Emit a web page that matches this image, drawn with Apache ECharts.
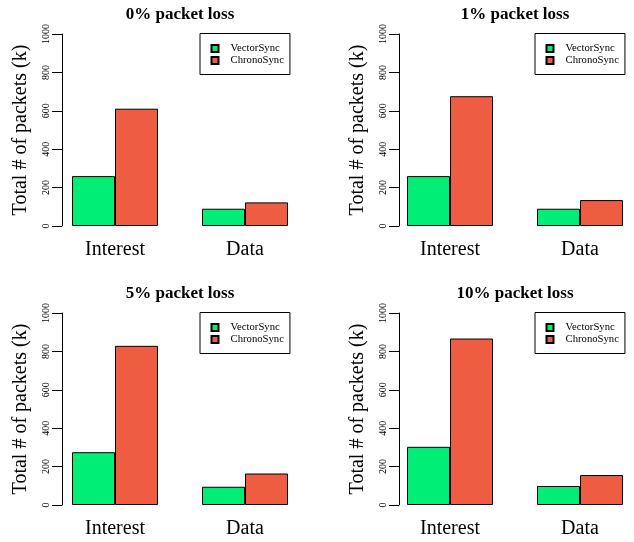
<!DOCTYPE html>
<html>
<head>
<meta charset="utf-8">
<script src="https://cdn.jsdelivr.net/npm/echarts@6/dist/echarts.min.js"></script>
<style>html,body{margin:0;padding:0;background:#fff}#c{width:634px;height:542px}</style>
</head>
<body>
<div id="c"></div>
<script>
// ---- data ----
const categories = ['Interest', 'Data'];
const seriesNames = ['VectorSync', 'ChronoSync'];
const panelTitles = ['0% packet loss', '1% packet loss', '5% packet loss', '10% packet loss'];
const yAxisTitle = 'Total # of packets (k)';
const vectorSync0 = [260, 90];
const chronoSync0 = [611, 123];
const vectorSync1 = [260, 90];
const chronoSync1 = [676, 135];
const vectorSync5 = [275, 95];
const chronoSync5 = [829, 164];
const vectorSync10 = [303, 99];
const chronoSync10 = [867, 156];
const yMin = 0, yMax = 1000, yStep = 200;

const panelData = [
  [vectorSync0, chronoSync0],
  [vectorSync1, chronoSync1],
  [vectorSync5, chronoSync5],
  [vectorSync10, chronoSync10]
];

// ---- layout / style ----
const F = 'Liberation Serif, Times New Roman, serif';
const colors = ['#00EE76', '#EE5C42'];
const layout = [
  {gl: 50,  gt: 34,  off: -12, cx: 180,   ty: 5,   lx: 200,   ly: 33.5},
  {gl: 385, gt: 34,  off: -14, cx: 515,   ty: 5,   lx: 535,   ly: 33.5},
  {gl: 50,  gt: 313, off: -12, cx: 180,   ty: 284, lx: 200,   ly: 312.5},
  {gl: 385, gt: 313, off: -14, cx: 515,   ty: 284, lx: 535,   ly: 312.5}
];

const grids = [], xAxes = [], yAxes = [], series = [], titles = [], legends = [];
layout.forEach((p, i) => {
  grids.push({left: p.gl, top: p.gt, width: 260, height: 192, outerBoundsMode: 'none', containLabel: false});
  xAxes.push({
    type: 'category', gridIndex: i, data: categories,
    axisLine: {show: false}, axisTick: {show: false}, splitLine: {show: false},
    axisLabel: {margin: 14, fontFamily: F, fontSize: 20, color: '#000', lineHeight: 20}
  });
  yAxes.push({
    type: 'value', gridIndex: i, min: yMin, max: yMax, interval: yStep, offset: p.off,
    splitLine: {show: false},
    axisLine: {show: true, lineStyle: {color: '#000', width: 1}},
    axisTick: {show: true, length: 10, lineStyle: {color: '#000', width: 1}},
    axisLabel: {rotate: 90, margin: 10, fontFamily: F, fontSize: 10, color: '#000', lineHeight: 12,
      formatter: v => String(v)},
    name: yAxisTitle, nameLocation: 'middle', nameGap: 31,
    nameTextStyle: {fontFamily: F, fontSize: 20, color: '#000', lineHeight: 20}
  });
  panelData[i].forEach((vals, s) => {
    series.push({
      type: 'bar', name: seriesNames[s], xAxisIndex: i, yAxisIndex: i, data: vals,
      barWidth: 43, barGap: '0%',
      itemStyle: {color: colors[s], borderColor: '#000', borderWidth: 1},
      emphasis: {disabled: true}
    });
  });
  titles.push({
    text: panelTitles[i], left: p.cx, top: p.ty, textAlign: 'center', padding: 0,
    textStyle: {fontFamily: F, fontSize: 17, fontWeight: 'bold', color: '#000', lineHeight: 20}
  });
  legends.push({
    data: seriesNames, orient: 'vertical', left: p.lx, top: p.ly,
    padding: [9, 6, 8, 10.5], itemWidth: 7, itemHeight: 7, itemGap: 0, icon: 'rect',
    borderColor: '#000', borderWidth: 1, backgroundColor: '#fff',
    selectedMode: false,
    textStyle: {fontFamily: F, fontSize: 10.7, lineHeight: 12, color: '#000', padding: [0, 0, 0, 7]}
  });
});

const chart = echarts.init(document.getElementById('c'), null, {renderer: 'canvas'});
chart.setOption({
  animation: false,
  backgroundColor: '#fff',
  title: titles,
  legend: legends,
  grid: grids,
  xAxis: xAxes,
  yAxis: yAxes,
  series: series
});
</script>
</body>
</html>
